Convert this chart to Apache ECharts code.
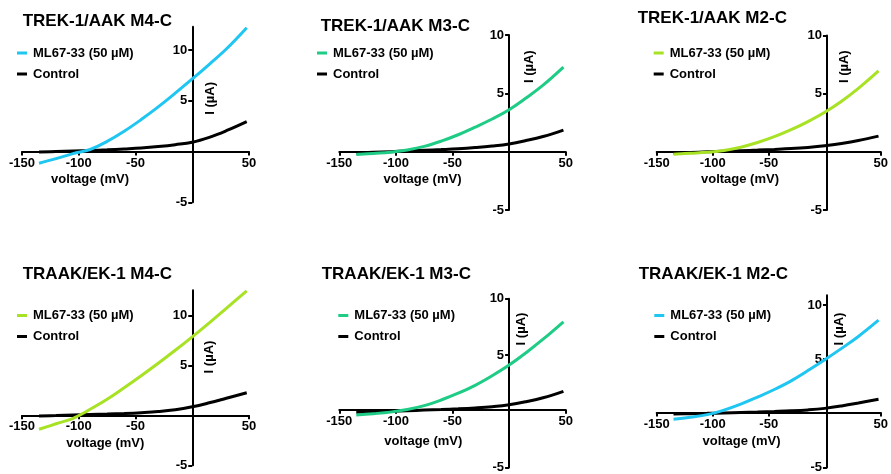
<!DOCTYPE html>
<html>
<head>
<meta charset="utf-8">
<script src="https://cdn.jsdelivr.net/npm/echarts@6/dist/echarts.min.js"></script>
<style>
html,body{margin:0;padding:0;background:#fff;}
#chart{width:891px;height:474px;}
</style>
</head>
<body>
<div id="chart"></div>
<script>
// ---- data ----
const voltage = [-135, -120, -105, -90, -75, -60, -45, -30, -15, 0, 15, 30, 48];
const titles = ['TREK-1/AAK M4-C', 'TREK-1/AAK M3-C', 'TREK-1/AAK M2-C',
                'TRAAK/EK-1 M4-C', 'TRAAK/EK-1 M3-C', 'TRAAK/EK-1 M2-C'];
const seriesNames = ['ML67-33 (50 µM)', 'Control'];
const xTicks = [-150, -100, -50, 50];
const yTicks = [-5, 5, 10];
const xName = 'voltage (mV)';
const yName = 'I (µA)';

const drugTrekM4 = [-1.15, -0.7, -0.2, 0.2, 1.0, 2.0, 3.15, 4.4, 5.75, 7.15, 8.6, 10.1, 12.2];
const ctrlTrekM4 = [-0.05, 0.0, 0.05, 0.1, 0.17, 0.26, 0.36, 0.5, 0.68, 0.92, 1.4, 2.05, 2.95];
const drugTrekM3 = [-0.25, -0.15, -0.05, 0.15, 0.45, 0.9, 1.45, 2.1, 2.8, 3.6, 4.6, 5.7, 7.25];
const ctrlTrekM3 = [-0.12, -0.06, 0.0, 0.06, 0.12, 0.18, 0.25, 0.35, 0.48, 0.66, 0.95, 1.3, 1.85];
const drugTrekM2 = [-0.2, -0.12, -0.04, 0.12, 0.4, 0.8, 1.3, 1.9, 2.6, 3.4, 4.35, 5.45, 6.95];
const ctrlTrekM2 = [-0.1, -0.05, 0.0, 0.05, 0.1, 0.15, 0.21, 0.28, 0.38, 0.52, 0.72, 0.97, 1.35];
const drugTraakM4 = [-1.4, -0.85, -0.3, 0.6, 1.6, 2.75, 3.95, 5.2, 6.5, 7.85, 9.25, 10.7, 12.45];
const ctrlTraakM4 = [-0.07, -0.03, 0.02, 0.07, 0.12, 0.18, 0.26, 0.37, 0.55, 0.85, 1.25, 1.7, 2.25];
const drugTraakM3 = [-0.33, -0.22, -0.08, 0.15, 0.5, 1.0, 1.6, 2.3, 3.15, 4.1, 5.2, 6.4, 7.95];
const ctrlTraakM3 = [-0.1, -0.05, 0.0, 0.05, 0.1, 0.15, 0.21, 0.29, 0.4, 0.57, 0.85, 1.2, 1.77];
const drugTraakM2 = [-0.55, -0.35, -0.12, 0.3, 0.85, 1.5, 2.2, 3.0, 3.95, 4.95, 6.0, 7.1, 8.6];
const ctrlTraakM2 = [-0.06, -0.03, 0.0, 0.04, 0.08, 0.12, 0.17, 0.23, 0.32, 0.46, 0.68, 0.95, 1.3];

const drugData = [drugTrekM4, drugTrekM3, drugTrekM2, drugTraakM4, drugTraakM3, drugTraakM2];
const ctrlData = [ctrlTrekM4, ctrlTrekM3, ctrlTrekM2, ctrlTraakM4, ctrlTraakM3, ctrlTraakM2];
const yMax = [12.3, 10, 10, 12.5, 10, 10.9];
const X_MIN = -150, X_MAX = 50, Y_MIN = -5;

// ---- styling / layout ----
const CYAN = '#1fc6f2', GREEN = '#1fcc86', LIME = '#a8e224';
const drugColors = [CYAN, GREEN, LIME, LIME, GREEN, CYAN];
const FONT = '"Liberation Sans", Arial, Helvetica, sans-serif';

const layout = [
  {grid: [22, 26.7, 227, 175.6],    title: [22.7, 21.2],  xname: [90, 179.5],    yname: [210, 98.3],  legend: [17, 46.5]},
  {grid: [339.3, 35, 226.4, 175],   title: [320.7, 26.7], xname: [422.5, 179],   yname: [529, 66.7],  legend: [317, 46.5]},
  {grid: [656.7, 35.5, 227, 174.5], title: [637.7, 18.3], xname: [740, 179],     yname: [844.5, 66.7], legend: [653.7, 46.5]},
  {grid: [22, 290.3, 227, 175],     title: [22.7, 274],   xname: [105.3, 443.7], yname: [209.5, 357], legend: [17, 309]},
  {grid: [339.3, 298.7, 226.4, 173.3], title: [321.7, 274], xname: [423.3, 441], yname: [521, 329],   legend: [338.3, 309]},
  {grid: [656.7, 295.3, 227, 175],  title: [638.7, 274],  xname: [741.5, 441],   yname: [839.3, 329], legend: [654.3, 309]}
];

const grids = [], xAxes = [], yAxes = [], series = [], legends = [], graphics = [];
const pairs = d => voltage.map((v, i) => [v, d[i]]);

layout.forEach((L, i) => {
  const [gl, gt, gw, gh] = L.grid;
  grids.push({left: gl, top: gt, width: gw, height: gh, containLabel: false});
  // place each axis through the other axis' zero (offset from the grid edge)
  const xOffset = -gh * (0 - Y_MIN) / (yMax[i] - Y_MIN);
  const yOffset = -gw * (0 - X_MIN) / (X_MAX - X_MIN);
  const axisCommon = {
    axisLine: {onZero: false, lineStyle: {color: '#000', width: 2}},
    splitLine: {show: false}
  };
  const tick = vals => ({show: true, length: 4, lineStyle: {color: '#000', width: 2}, customValues: vals});
  const label = vals => ({color: '#000', fontWeight: 'bold', fontSize: 13, fontFamily: FONT, margin: 5, customValues: vals});
  xAxes.push(Object.assign({}, axisCommon, {
    type: 'value', gridIndex: i, min: X_MIN, max: X_MAX, interval: 50, position: 'bottom', offset: xOffset,
    axisTick: tick(xTicks), axisLabel: label(xTicks)
  }));
  yAxes.push(Object.assign({}, axisCommon, {
    type: 'value', gridIndex: i, min: Y_MIN, max: yMax[i], interval: 5, position: 'left', offset: yOffset,
    axisTick: tick(yTicks), axisLabel: label(yTicks)
  }));
  const n1 = 'p' + i + '|' + seriesNames[0];
  const n2 = 'p' + i + '|' + seriesNames[1];
  series.push({
    name: n2, type: 'line', xAxisIndex: i, yAxisIndex: i, data: pairs(ctrlData[i]),
    smooth: 0.4, symbol: 'none', lineStyle: {color: '#000', width: 3}, itemStyle: {color: '#000'}, z: 3
  });
  series.push({
    name: n1, type: 'line', xAxisIndex: i, yAxisIndex: i, data: pairs(drugData[i]),
    smooth: 0.4, symbol: 'none', lineStyle: {color: drugColors[i], width: 3}, itemStyle: {color: drugColors[i]}, z: 4
  });
  legends.push({
    data: [n1, n2], orient: 'vertical', left: L.legend[0], top: L.legend[1],
    padding: 0, itemGap: 8, itemWidth: 10, itemHeight: 3, icon: 'rect', selectedMode: false,
    formatter: name => name.split('|')[1],
    textStyle: {color: '#000', fontWeight: 'bold', fontSize: 13, fontFamily: FONT, padding: [0, 0, 0, 1]}
  });
  graphics.push({
    type: 'text', x: L.title[0], y: L.title[1],
    style: {text: titles[i], fill: '#000', font: 'bold 17px ' + FONT, textAlign: 'left', textVerticalAlign: 'middle'}
  });
  graphics.push({
    type: 'text', x: L.xname[0], y: L.xname[1],
    style: {text: xName, fill: '#000', font: 'bold 13px ' + FONT, textAlign: 'center', textVerticalAlign: 'middle'}
  });
  graphics.push({
    type: 'text', x: L.yname[0], y: L.yname[1], rotation: Math.PI / 2,
    style: {text: yName, fill: '#000', font: 'bold 13px ' + FONT, textAlign: 'center', textVerticalAlign: 'middle'}
  });
});

const chart = echarts.init(document.getElementById('chart'), null, {renderer: 'canvas'});
chart.setOption({
  backgroundColor: '#fff',
  animation: false,
  grid: grids, xAxis: xAxes, yAxis: yAxes, series: series, legend: legends,
  graphic: {elements: graphics}
});
</script>
</body>
</html>
